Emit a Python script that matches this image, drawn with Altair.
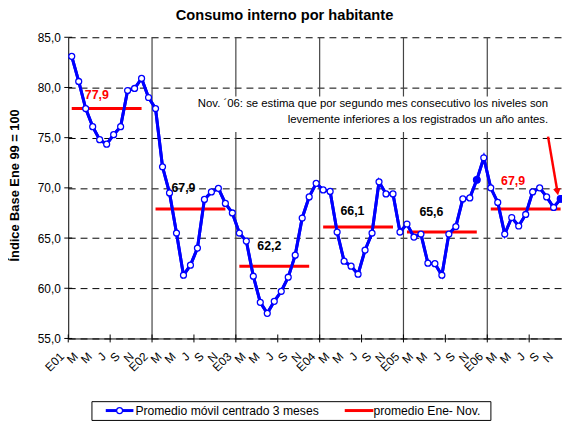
import altair as alt
import pandas as pd

# ---------------- data ----------------
month_letters = ["E", "F", "M", "A", "M", "J", "J", "A", "S", "O", "N", "D"]
year_codes = ["01", "02", "03", "04", "05", "06"]

values = [
    # 2001
    83.1, 80.6, 77.9, 76.1, 74.8, 74.35, 75.3, 76.1, 79.7, 79.9, 80.9, 79.0,
    # 2002
    77.9, 72.1, 69.5, 65.5, 61.3, 62.3, 64.0, 68.85, 69.6, 69.95, 68.45, 67.5,
    # 2003
    65.5, 64.7, 61.2, 58.6, 57.5, 58.7, 59.7, 61.1, 63.3, 67.0, 69.1, 70.45,
    # 2004
    69.8, 69.65, 65.6, 62.7, 62.2, 61.4, 63.8, 65.5, 70.6, 69.4, 69.4, 65.6,
    # 2005
    66.4, 65.1, 65.4, 62.5, 62.45, 61.3, 65.4, 66.15, 68.9, 69.0, 70.8, 73.0,
    # 2006
    70.0, 68.55, 65.4, 67.05, 66.2, 67.35, 69.6, 70.0, 69.1, 68.05, 68.9,
]
highlight_idx = [58, 70]

avg_values = [77.9, 67.9, 62.2, 66.1, 65.6, 67.9]
avg_labels = ["77,9", "67,9", "62,2", "66,1", "65,6", "67,9"]
avg_colors = ["#FF0000", "#000000", "#000000", "#000000", "#000000", "#FF0000"]

title_text = "Consumo interno por habitante"
y_title = "Índice Base Ene 99 = 100"
note_lines = [
    "Nov. ´06: se estima que por segundo mes consecutivo los niveles son",
    "levemente inferiores a los registrados un año antes.",
]
legend_labels = ["Promedio móvil centrado 3 meses", "promedio Ene- Nov."]
y_ticks = [55, 60, 65, 70, 75, 80, 85]

# ---------------- layout ----------------
W, H = 500, 305
FONT = "Liberation Sans"
BLUE = "#0000FF"
RED = "#FF0000"
px_per_unit = H / 30.0
label_pos = [3.6, 16.0, 28.3, 40.2, 51.5, 63.2]      # month position of avg labels
label_dy_px = [14, 21, 20, 16, 20, 28]               # pixels above the red line

# tick labels every 2 months
tick_vals = list(range(0, len(values), 2))
tick_labels = [("E" + year_codes[i // 12]) if i % 12 == 0 else month_letters[i % 12] for i in tick_vals]
tick_df = pd.DataFrame({"m": tick_vals, "t": tick_labels})

series = pd.DataFrame({"m": list(range(len(values))), "v": values})
series["hl"] = [i in highlight_idx for i in range(len(values))]

avg_df = pd.DataFrame({
    "m": [k * 12 for k in range(6)],
    "m2": [k * 12 + 10 for k in range(6)],
    "v": avg_values,
})
lab_df = pd.DataFrame({
    "m": label_pos,
    "v": [a + d / px_per_unit for a, d in zip(avg_values, label_dy_px)],
    "t": avg_labels,
    "c": avg_colors,
})
sep_df = pd.DataFrame({"m": [k * 12 - 0.5 for k in range(1, 6)]})
xtick_df = pd.DataFrame({"m": [k * 6 - 0.5 for k in range(12)]})
ytick_df = pd.DataFrame({"v": y_ticks})

xscale = alt.Scale(domain=[-0.5, 70.2], nice=False, zero=False)
yscale = alt.Scale(domain=[55, 85], nice=False, zero=False)


def X(f="m"):
    return alt.X(f + ":Q", scale=xscale, title=None)


def Y(f="v"):
    return alt.Y(f + ":Q", scale=yscale, title=None)


one = pd.DataFrame({"a": [0]})

base_line = alt.Chart(series).mark_line(color=BLUE, strokeWidth=3).encode(
    x=alt.X("m:Q", scale=xscale, title=None,
            axis=alt.Axis(labels=False, ticks=False, grid=False, domainColor="#000000")),
    y=alt.Y("v:Q", scale=yscale, title=None,
            axis=alt.Axis(values=y_ticks, format=".1f",
                          labelExpr="replace(datum.label, '.', ',')",
                          ticks=False, grid=True, gridDash=[7, 5], gridColor="#000000",
                          gridWidth=1, domainColor="#000000", labelPadding=8,
                          labelOverlap=False,
                          labelFont=FONT, labelFontSize=12, labelColor="#000000")),
)

seps = alt.Chart(sep_df).mark_rule(color="#444444", strokeWidth=1.2).encode(
    x=X(), y=alt.value(0), y2=alt.value(H))

xticks = alt.Chart(xtick_df).mark_rule(color="#000000", strokeWidth=1).encode(
    x=X(), y=alt.value(H - 4), y2=alt.value(H + 4))
yticks = alt.Chart(ytick_df).mark_rule(color="#000000", strokeWidth=1).encode(
    y=Y(), x=alt.value(-4), x2=alt.value(4))

xlabels = alt.Chart(tick_df).mark_text(
    font=FONT, fontSize=12, angle=315, align="right", baseline="alphabetic",
    color="#000000", xOffset=-7).encode(
    x=X(), y=alt.value(H + 19), text="t:N")

avg_rules = alt.Chart(avg_df).mark_rule(color=RED, strokeWidth=3).encode(
    x=X(), x2="m2:Q", y=Y())

line_top = alt.Chart(series).mark_line(color=BLUE, strokeWidth=3).encode(x=X(), y=Y())

pts = alt.Chart(series).mark_point(filled=True, fill="white", stroke=BLUE,
                                   strokeWidth=1.3, size=36, opacity=1).encode(x=X(), y=Y())
hl_pts = alt.Chart(series).transform_filter("datum.hl").mark_point(
    filled=True, color=BLUE, size=64, opacity=1).encode(x=X(), y=Y())

labels = alt.Chart(lab_df).mark_text(font=FONT, fontSize=12.5, fontWeight="bold").encode(
    x=X(), y=Y(), text="t:N", color=alt.Color("c:N", scale=None))

# arrow pointing to the last value
arrow_df = pd.DataFrame({"m": [68.2], "v": [75.1], "m2": [69.55], "v2": [69.6]})
arrow = alt.Chart(arrow_df).mark_rule(color=RED, strokeWidth=2.5).encode(
    x=X(), y=Y(), x2="m2:Q", y2="v2:Q")
head = alt.Chart(arrow_df).mark_point(shape="triangle-down", filled=True, color=RED,
                                      size=60, angle=350, opacity=1).encode(
    x=X("m2"), y=Y("v2"))


def fixed_text(txt, x, y, **kw):
    return alt.Chart(one).mark_text(text=txt, font=FONT, color="#000000", **kw).encode(
        x=alt.value(x), y=alt.value(y))


# white box behind the note
note_bg = alt.Chart(one).mark_rect(fill="white").encode(
    x=alt.value(124), x2=alt.value(491), y=alt.value(60), y2=alt.value(96))
note1 = fixed_text(note_lines[0], 486, 68, fontSize=11.5, align="right", baseline="middle")
note2 = fixed_text(note_lines[1], 486, 84, fontSize=11.5, align="right", baseline="middle")
title = fixed_text(title_text, 219, -21, fontSize=14.8, fontWeight="bold",
                   align="center", baseline="middle")
ytitle = fixed_text(y_title, -54, 150, fontSize=13, fontWeight="bold", angle=270,
                    align="center", baseline="middle")

# legend
LY = 378
leg_box = alt.Chart(one).mark_rect(fill="white", stroke="#000000", strokeWidth=1).encode(
    x=alt.value(24), x2=alt.value(428), y=alt.value(369), y2=alt.value(388))
leg_blue = alt.Chart(one).mark_rule(color=BLUE, strokeWidth=3).encode(
    x=alt.value(38), x2=alt.value(66), y=alt.value(LY))
leg_pt = alt.Chart(one).mark_point(
    filled=True, fill="white", stroke=BLUE, strokeWidth=1.3, size=36, opacity=1).encode(
    x=alt.value(52), y=alt.value(LY))
leg_red = alt.Chart(one).mark_rule(color=RED, strokeWidth=3).encode(
    x=alt.value(280), x2=alt.value(309), y=alt.value(LY))
leg_t1 = fixed_text(legend_labels[0], 68, LY, fontSize=12.3, align="left", baseline="middle")
leg_t2 = fixed_text(legend_labels[1], 309, LY, fontSize=12.3, align="left", baseline="middle")

chart = alt.layer(
    base_line, seps, note_bg, avg_rules, line_top,
    pts, hl_pts, labels, xticks, yticks, xlabels, arrow, head, note1, note2, title, ytitle,
    leg_box, leg_blue, leg_pt, leg_red, leg_t1, leg_t2,
).properties(
    width=W, height=H,
    autosize=alt.AutoSizeParams(type="none"),
    padding={"left": 61, "top": 27, "right": 0, "bottom": 86},
).configure_view(stroke=None)

chart.save("out.html", embed_options={"renderer": "svg", "actions": False})
